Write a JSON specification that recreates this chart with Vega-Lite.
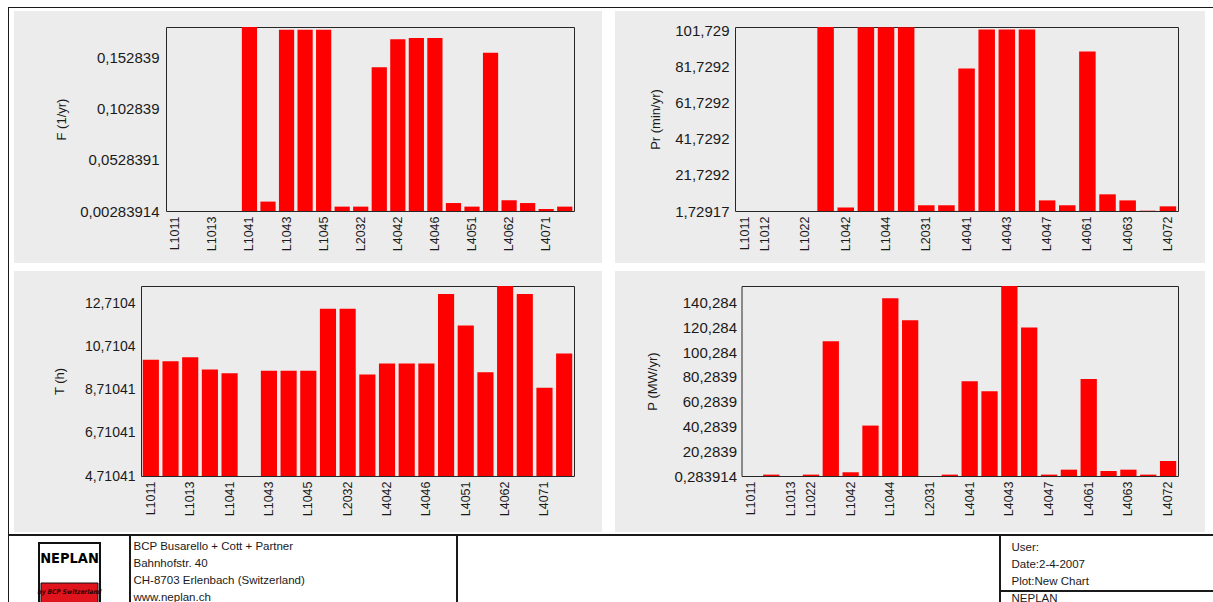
{
  "$schema": "https://vega.github.io/schema/vega-lite/v6.json",
  "background": "white",
  "padding": {"left": 8, "top": 7, "right": 0, "bottom": 0},
  "spacing": 0,
  "config": {
    "font": "Liberation Sans",
    "view": {"stroke": null},
    "axis": {
      "labelFont": "Liberation Sans",
      "titleFont": "Liberation Sans",
      "labelColor": "#1a1a1a",
      "titleColor": "#1a1a1a",
      "domainColor": "#262626",
      "domainWidth": 1,
      "grid": false,
      "ticks": false,
      "titleFontWeight": "normal"
    }
  },
  "datasets": {
    "lines": [
      {"line": "L1011", "F": 0.00283914, "Pr": 1.72917, "T": 10.10, "P": 0.283914},
      {"line": "L1012", "F": 0.00283914, "Pr": 1.72917, "T": 10.03, "P": 1.4},
      {"line": "L1013", "F": 0.00283914, "Pr": 1.72917, "T": 10.22, "P": 0.3},
      {"line": "L1022", "F": 0.00283914, "Pr": 1.72917, "T": 9.65, "P": 1.4},
      {"line": "L1041", "F": 0.1821, "Pr": 103.5, "T": 9.48, "P": 109.0},
      {"line": "L1042", "F": 0.0120, "Pr": 3.6, "T": 4.71041, "P": 3.3},
      {"line": "L1043", "F": 0.1795, "Pr": 103.3, "T": 9.59, "P": 41.0},
      {"line": "L1044", "F": 0.1795, "Pr": 103.3, "T": 9.59, "P": 143.8},
      {"line": "L1045", "F": 0.1795, "Pr": 103.3, "T": 9.59, "P": 126.0},
      {"line": "L2031", "F": 0.0071, "Pr": 4.9, "T": 12.47, "P": 0.3},
      {"line": "L2032", "F": 0.0071, "Pr": 4.9, "T": 12.47, "P": 1.4},
      {"line": "L4041", "F": 0.1428, "Pr": 80.6, "T": 9.42, "P": 76.7},
      {"line": "L4042", "F": 0.1701, "Pr": 102.1, "T": 9.93, "P": 68.7},
      {"line": "L4043", "F": 0.1713, "Pr": 102.1, "T": 9.93, "P": 153.7},
      {"line": "L4046", "F": 0.1713, "Pr": 102.1, "T": 9.93, "P": 120.1},
      {"line": "L4047", "F": 0.0106, "Pr": 7.6, "T": 13.15, "P": 1.4},
      {"line": "L4051", "F": 0.0071, "Pr": 4.9, "T": 11.69, "P": 5.4},
      {"line": "L4061", "F": 0.1571, "Pr": 89.96, "T": 9.52, "P": 78.6},
      {"line": "L4062", "F": 0.0133, "Pr": 10.95, "T": 13.52, "P": 4.3},
      {"line": "L4063", "F": 0.0106, "Pr": 7.6, "T": 13.15, "P": 5.4},
      {"line": "L4071", "F": 0.0048, "Pr": 1.9, "T": 8.80, "P": 1.4},
      {"line": "L4072", "F": 0.0071, "Pr": 4.3, "T": 10.39, "P": 12.4}
    ]
  },
  "vconcat": [
    {
      "data": {"values": []},
      "mark": {"type": "point", "opacity": 0},
      "width": 1210,
      "height": 1,
      "view": {"fill": "#1a1a1a", "stroke": null}
    },
    {
      "hconcat": [
        {
          "data": {"values": []},
          "mark": {"type": "point", "opacity": 0},
          "width": 1,
          "height": 526,
          "view": {"fill": "#1a1a1a", "stroke": null}
        },
        {
          "vconcat": [
            {
              "data": {"values": []},
              "mark": {"type": "point", "opacity": 0},
              "width": 1,
              "height": 3,
              "view": {"fill": "white", "stroke": null}
            },
            {
              "vconcat": [
                {
                  "hconcat": [
                    {
                      "width": 588,
                      "height": 252,
                      "view": {"fill": "#ECECEC", "stroke": null},
                      "data": {"name": "lines"},
                      "layer": [
                        {
                          "mark": {"type": "bar", "color": "#ff0000"},
                          "encoding": {
                            "x": {
                              "field": "line", "type": "nominal", "sort": null,
                              "scale": {"range": [152, 560], "paddingInner": 0.18, "paddingOuter": 0.09},
                              "axis": {"orient": "bottom", "offset": -52, "title": null, "labelAngle": 270, "labelPadding": 5, "labelFontSize": 12.5,
                                "values": ["L1011", "L1013", "L1041", "L1043", "L1045", "L2032", "L4042", "L4046", "L4051", "L4062", "L4071"]}
                            },
                            "y": {
                              "field": "F", "type": "quantitative",
                              "scale": {"domain": [0.00283914, 0.1821], "range": [200, 16], "zero": false, "nice": false, "clamp": true},
                              "axis": {"orient": "left", "offset": -152, "labelPadding": 7, "labelFontSize": 15,
                                "values": [0.00283914, 0.0528391, 0.102839, 0.152839],
                                "labelExpr": "replace(toString(datum.value), '.', ',')",
                                "title": "F (1/yr)", "titleX": -105, "titleY": 108, "titleBaseline": "middle", "titleFontSize": 13}
                            },
                            "y2": {"datum": 0.00283914}
                          }
                        },
                        {
                          "mark": {"type": "bar", "opacity": 0},
                          "encoding": {
                            "x": {"field": "line", "type": "nominal", "sort": null, "axis": {"orient": "top", "offset": -16, "labels": false, "title": null}},
                            "y": {"field": "F", "type": "quantitative", "axis": {"orient": "right", "offset": -28, "labels": false, "title": null}},
                            "y2": {"datum": 0.00283914}
                          }
                        }
                      ],
                      "resolve": {"axis": {"x": "independent", "y": "independent"}}
                    },
                    {
                      "width": 590,
                      "height": 252,
                      "view": {"fill": "#ECECEC", "stroke": null},
                      "data": {"name": "lines"},
                      "layer": [
                        {
                          "mark": {"type": "bar", "color": "#ff0000"},
                          "encoding": {
                            "x": {
                              "field": "line", "type": "nominal", "sort": null,
                              "scale": {"range": [120, 563], "paddingInner": 0.18, "paddingOuter": 0.09},
                              "axis": {"orient": "bottom", "offset": -52, "title": null, "labelAngle": 270, "labelPadding": 5, "labelFontSize": 12.5,
                                "values": ["L1011", "L1012", "L1022", "L1042", "L1044", "L2031", "L4041", "L4043", "L4047", "L4061", "L4063", "L4072"]}
                            },
                            "y": {
                              "field": "Pr", "type": "quantitative",
                              "scale": {"domain": [1.72917, 103.5], "range": [200, 16], "zero": false, "nice": false, "clamp": true},
                              "axis": {"orient": "left", "offset": -120, "labelPadding": 6, "labelFontSize": 15,
                                "values": [1.72917, 21.7292, 41.7292, 61.7292, 81.7292, 101.729],
                                "labelExpr": "replace(toString(datum.value), '.', ',')",
                                "title": "Pr (min/yr)", "titleX": -80, "titleY": 108, "titleBaseline": "middle", "titleFontSize": 13}
                            },
                            "y2": {"datum": 1.72917}
                          }
                        },
                        {
                          "mark": {"type": "bar", "opacity": 0},
                          "encoding": {
                            "x": {"field": "line", "type": "nominal", "sort": null, "axis": {"orient": "top", "offset": -16, "labels": false, "title": null}},
                            "y": {"field": "Pr", "type": "quantitative", "axis": {"orient": "right", "offset": -27, "labels": false, "title": null}},
                            "y2": {"datum": 1.72917}
                          }
                        }
                      ],
                      "resolve": {"axis": {"x": "independent", "y": "independent"}}
                    }
                  ],
                  "spacing": 13
                },
                {
                  "hconcat": [
                    {
                      "width": 588,
                      "height": 261,
                      "view": {"fill": "#ECECEC", "stroke": null},
                      "data": {"name": "lines"},
                      "layer": [
                        {
                          "mark": {"type": "bar", "color": "#ff0000"},
                          "encoding": {
                            "x": {
                              "field": "line", "type": "nominal", "sort": null,
                              "scale": {"range": [127, 560], "paddingInner": 0.18, "paddingOuter": 0.09},
                              "axis": {"orient": "bottom", "offset": -56, "title": null, "labelAngle": 270, "labelPadding": 5, "labelFontSize": 12.5,
                                "values": ["L1011", "L1013", "L1041", "L1043", "L1045", "L2032", "L4042", "L4046", "L4051", "L4062", "L4071"]}
                            },
                            "y": {
                              "field": "T", "type": "quantitative",
                              "scale": {"domain": [4.71041, 13.52], "range": [205, 15], "zero": false, "nice": false, "clamp": true},
                              "axis": {"orient": "left", "offset": -127, "labelPadding": 6, "labelFontSize": 14,
                                "values": [4.71041, 6.71041, 8.71041, 10.7104, 12.7104],
                                "labelExpr": "replace(toString(datum.value), '.', ',')",
                                "title": "T (h)", "titleX": -82, "titleY": 110, "titleBaseline": "middle", "titleFontSize": 13}
                            },
                            "y2": {"datum": 4.71041}
                          }
                        },
                        {
                          "mark": {"type": "bar", "opacity": 0},
                          "encoding": {
                            "x": {"field": "line", "type": "nominal", "sort": null, "axis": {"orient": "top", "offset": -15, "labels": false, "title": null}},
                            "y": {"field": "T", "type": "quantitative", "axis": {"orient": "right", "offset": -28, "labels": false, "title": null}},
                            "y2": {"datum": 4.71041}
                          }
                        }
                      ],
                      "resolve": {"axis": {"x": "independent", "y": "independent"}}
                    },
                    {
                      "width": 590,
                      "height": 261,
                      "view": {"fill": "#ECECEC", "stroke": null},
                      "data": {"name": "lines"},
                      "layer": [
                        {
                          "mark": {"type": "bar", "color": "#ff0000"},
                          "encoding": {
                            "x": {
                              "field": "line", "type": "nominal", "sort": null,
                              "scale": {"range": [126.5, 563], "paddingInner": 0.18, "paddingOuter": 0.09},
                              "axis": {"orient": "bottom", "offset": -56, "title": null, "labelAngle": 270, "labelPadding": 5, "labelFontSize": 12.5,
                                "values": ["L1011", "L1013", "L1022", "L1042", "L1044", "L2031", "L4041", "L4043", "L4047", "L4061", "L4063", "L4072"]}
                            },
                            "y": {
                              "field": "P", "type": "quantitative",
                              "scale": {"domain": [0.283914, 153.7], "range": [205, 15], "zero": false, "nice": false, "clamp": true},
                              "axis": {"orient": "left", "offset": -126.5, "labelPadding": 5, "labelFontSize": 15,
                                "values": [0.283914, 20.2839, 40.2839, 60.2839, 80.2839, 100.284, 120.284, 140.284],
                                "labelExpr": "replace(toString(datum.value), '.', ',')",
                                "title": "P (MW/yr)", "titleX": -89, "titleY": 110, "titleBaseline": "middle", "titleFontSize": 13}
                            },
                            "y2": {"datum": 0.283914}
                          }
                        },
                        {
                          "mark": {"type": "bar", "opacity": 0},
                          "encoding": {
                            "x": {"field": "line", "type": "nominal", "sort": null, "axis": {"orient": "top", "offset": -15, "labels": false, "title": null}},
                            "y": {"field": "P", "type": "quantitative", "axis": {"orient": "right", "offset": -27, "labels": false, "title": null}},
                            "y2": {"datum": 0.283914}
                          }
                        }
                      ],
                      "resolve": {"axis": {"x": "independent", "y": "independent"}}
                    }
                  ],
                  "spacing": 13
                }
              ],
              "spacing": 8
            }
          ],
          "spacing": 0
        }
      ],
      "spacing": 5
    },
    {
      "vconcat": [
        {
          "data": {"values": []},
          "mark": {"type": "point", "opacity": 0},
          "width": 1210,
          "height": 2,
          "view": {"fill": "#1a1a1a", "stroke": null}
        },
        {
          "hconcat": [
            {
              "data": {"values": []},
              "mark": {"type": "point", "opacity": 0},
              "width": 1,
              "height": 80,
              "view": {"fill": "#1a1a1a", "stroke": null}
            },
            {
              "width": 120,
              "height": 80,
              "view": {"fill": "white", "stroke": null},
              "data": {"values": [{"brand": "NEPLAN", "maker": "by BCP Switzerland"}]},
              "layer": [
                {
                  "mark": {"type": "rect", "fill": "white", "stroke": "#111111", "strokeWidth": 2},
                  "encoding": {
                    "x": {"field": "brand", "type": "nominal", "scale": {"range": [30, 91], "paddingInner": 0, "paddingOuter": 0}, "axis": null},
                    "y": {"field": "brand", "type": "nominal", "scale": {"range": [7, 75], "paddingInner": 0, "paddingOuter": 0}, "axis": null}
                  }
                },
                {
                  "mark": {"type": "rect", "fill": "#e0141c", "stroke": "#111111", "strokeWidth": 1},
                  "encoding": {
                    "x": {"field": "maker", "type": "nominal", "scale": {"range": [32, 89], "paddingInner": 0, "paddingOuter": 0}, "axis": null},
                    "y": {"field": "maker", "type": "nominal", "scale": {"range": [47, 70], "paddingInner": 0, "paddingOuter": 0}, "axis": null}
                  }
                },
                {
                  "mark": {"type": "text", "font": "DejaVu Sans Condensed", "fontWeight": "bold", "fontSize": 14.5, "color": "#000000"},
                  "encoding": {
                    "text": {"field": "brand"},
                    "x": {"field": "brand", "type": "nominal", "scale": {"range": [30, 91], "paddingInner": 0, "paddingOuter": 0}, "axis": null},
                    "y": {"field": "brand", "type": "nominal", "scale": {"range": [12, 34], "paddingInner": 0, "paddingOuter": 0}, "axis": null}
                  }
                },
                {
                  "mark": {"type": "text", "font": "DejaVu Sans Condensed", "fontStyle": "italic", "fontWeight": "bold", "fontSize": 6.5, "color": "#2a0000"},
                  "encoding": {
                    "text": {"field": "maker"},
                    "x": {"field": "maker", "type": "nominal", "scale": {"range": [32, 89], "paddingInner": 0, "paddingOuter": 0}, "axis": null},
                    "y": {"field": "maker", "type": "nominal", "scale": {"range": [47, 65], "paddingInner": 0, "paddingOuter": 0}, "axis": null}
                  }
                }
              ],
              "resolve": {"scale": {"x": "independent", "y": "independent"}}
            },
            {
              "data": {"values": []},
              "mark": {"type": "point", "opacity": 0},
              "width": 2,
              "height": 80,
              "view": {"fill": "#1a1a1a", "stroke": null}
            },
            {
              "data": {"values": []},
              "mark": {"type": "point", "opacity": 0},
              "width": 325,
              "height": 80,
              "view": {"fill": "white", "stroke": null},
              "title": {
                "text": ["BCP Busarello + Cott + Partner", "Bahnhofstr. 40", "CH-8703 Erlenbach (Switzerland)", "www.neplan.ch"],
                "anchor": "start", "frame": "group", "orient": "top", "baseline": "top",
                "offset": -68, "dx": 2.5, "fontSize": 11.5, "fontWeight": "normal", "lineHeight": 17.2,
                "color": "#1a1a1a", "font": "Liberation Sans"
              }
            },
            {
              "data": {"values": []},
              "mark": {"type": "point", "opacity": 0},
              "width": 2,
              "height": 80,
              "view": {"fill": "#1a1a1a", "stroke": null}
            },
            {
              "data": {"values": []},
              "mark": {"type": "point", "opacity": 0},
              "width": 541,
              "height": 80,
              "view": {"fill": "white", "stroke": null}
            },
            {
              "data": {"values": []},
              "mark": {"type": "point", "opacity": 0},
              "width": 2,
              "height": 80,
              "view": {"fill": "#1a1a1a", "stroke": null}
            },
            {
              "vconcat": [
                {
                  "data": {"values": []},
                  "mark": {"type": "point", "opacity": 0},
                  "width": 220,
                  "height": 54,
                  "view": {"fill": "white", "stroke": null},
                  "title": {
                    "text": ["User:", "Date:2-4-2007", "Plot:New Chart"],
                    "anchor": "start", "frame": "group", "orient": "top", "baseline": "top",
                    "offset": -51.5, "dx": 10.5, "fontSize": 11.5, "fontWeight": "normal", "lineHeight": 17,
                    "color": "#1a1a1a", "font": "Liberation Sans"
                  }
                },
                {
                  "data": {"values": []},
                  "mark": {"type": "point", "opacity": 0},
                  "width": 220,
                  "height": 2,
                  "view": {"fill": "#1a1a1a", "stroke": null}
                },
                {
                  "data": {"values": []},
                  "mark": {"type": "point", "opacity": 0},
                  "width": 220,
                  "height": 30,
                  "view": {"fill": "white", "stroke": null},
                  "title": {
                    "text": "NEPLAN",
                    "anchor": "start", "frame": "group", "orient": "top", "baseline": "top",
                    "offset": -12.5, "dx": 10.5, "fontSize": 11.5, "fontWeight": "normal",
                    "color": "#1a1a1a", "font": "Liberation Sans"
                  }
                }
              ],
              "spacing": 0
            }
          ],
          "spacing": 0
        }
      ],
      "spacing": 0
    }
  ]
}
